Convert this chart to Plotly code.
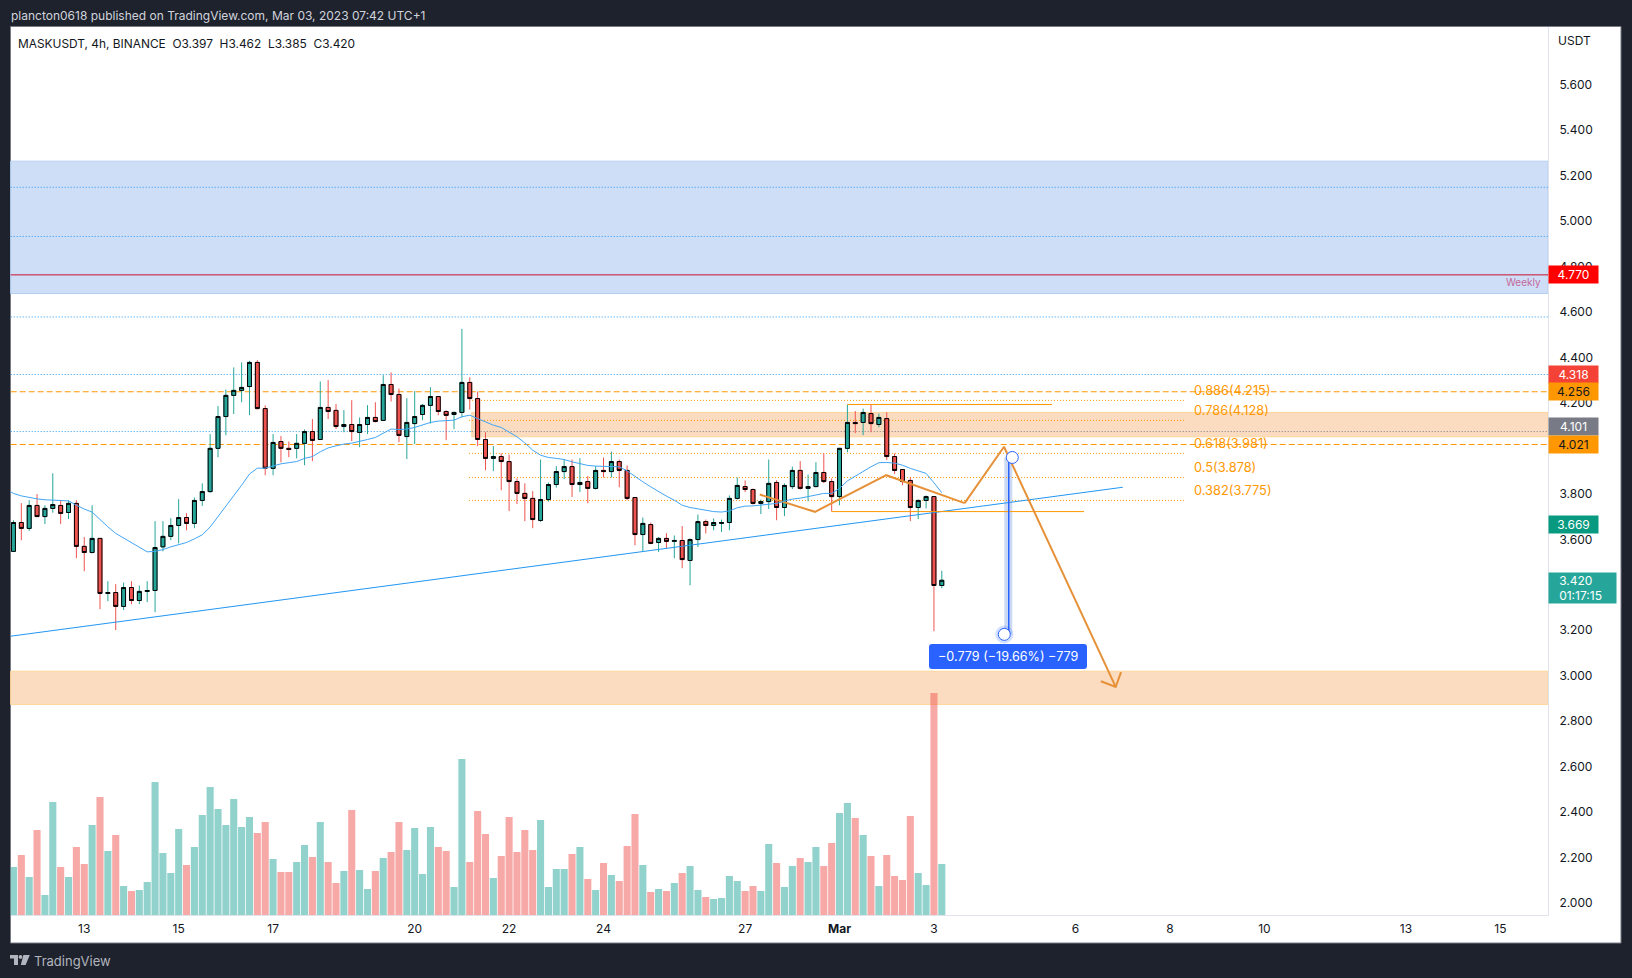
import numpy as np
import pandas as pd
import plotly.graph_objects as go

W, H = 1632, 978

TITLE = "plancton0618 published on TradingView.com, Mar 03, 2023 07:42 UTC+1"
LEGEND = "MASKUSDT, 4h, BINANCE\u00a0\u00a0O3.397\u00a0\u00a0H3.462\u00a0\u00a0L3.385\u00a0\u00a0C3.420"

OPEN = [3.547,3.674,3.648,3.749,3.700,3.736,3.749,3.718,3.758,3.569,3.542,3.604,3.362,3.366,3.305,3.388,3.331,3.371,3.375,3.567,
3.613,3.661,3.696,3.670,3.771,3.810,4.000,4.140,4.233,4.255,4.272,4.378,4.175,3.912,4.030,4.000,4.000,4.022,4.074,4.039,
4.180,4.167,4.096,4.105,4.070,4.105,4.136,4.123,4.281,4.237,4.052,4.109,4.149,4.189,4.228,4.162,4.149,4.158,4.290,4.219,
4.039,3.956,3.964,3.942,3.854,3.802,3.780,3.683,3.775,3.841,3.898,3.920,3.841,3.854,3.824,3.903,3.898,3.942,3.903,3.784,
3.621,3.665,3.586,3.604,3.591,3.595,3.507,3.599,3.678,3.661,3.670,3.674,3.780,3.832,3.819,3.758,3.766,3.850,3.740,3.832,
3.903,3.824,3.832,3.894,3.854,3.788,4.000,4.114,4.114,4.153,4.105,4.131,3.964,3.907,3.859,3.740,3.771,3.788,3.397]
HIGH = [3.684,3.759,3.772,3.799,3.750,3.890,3.772,3.772,3.772,3.610,3.750,3.606,3.416,3.403,3.410,3.416,3.397,3.416,3.680,3.680,
3.693,3.777,3.715,3.784,3.846,4.063,4.186,4.259,4.356,4.378,4.385,4.388,4.189,4.063,4.054,4.030,4.063,4.083,4.129,4.294,
4.300,4.195,4.168,4.212,4.136,4.190,4.203,4.322,4.334,4.263,4.221,4.252,4.195,4.269,4.230,4.168,4.162,4.525,4.312,4.250,
4.071,4.010,3.978,3.973,3.868,3.846,3.812,3.951,3.850,3.922,3.951,3.951,3.957,3.878,3.922,3.960,3.986,3.951,3.925,3.786,
3.696,3.674,3.610,3.627,3.617,3.658,3.604,3.709,3.687,3.692,3.687,3.793,3.872,3.859,3.824,3.775,3.951,3.860,3.846,3.920,
3.944,3.885,3.939,3.978,3.868,4.002,4.193,4.164,4.175,4.193,4.153,4.159,3.978,3.909,3.872,3.775,3.793,3.790,3.462]
LOW = [3.545,3.596,3.637,3.700,3.667,3.717,3.667,3.689,3.517,3.460,3.538,3.293,3.328,3.201,3.289,3.315,3.315,3.324,3.280,3.547,
3.596,3.582,3.640,3.649,3.747,3.805,3.961,4.058,4.151,4.203,4.146,4.171,3.882,3.882,3.939,3.961,3.956,3.926,3.944,4.039,
4.129,4.085,4.071,4.032,4.005,4.063,4.114,4.123,4.206,4.027,3.953,4.019,4.124,4.109,4.146,4.036,4.085,4.136,4.171,4.010,
3.904,3.900,3.816,3.724,3.755,3.680,3.649,3.676,3.766,3.827,3.865,3.786,3.808,3.759,3.819,3.872,3.872,3.829,3.772,3.574,
3.547,3.579,3.544,3.560,3.517,3.473,3.398,3.566,3.626,3.640,3.632,3.640,3.775,3.808,3.753,3.711,3.733,3.684,3.702,3.821,
3.819,3.768,3.829,3.847,3.722,3.750,3.983,4.067,4.058,4.071,4.093,3.948,3.887,3.838,3.680,3.689,3.736,3.196,3.385]
CLOSE = [3.674,3.648,3.749,3.700,3.736,3.753,3.714,3.758,3.569,3.542,3.604,3.362,3.366,3.305,3.388,3.331,3.371,3.375,3.564,3.613,
3.661,3.696,3.670,3.771,3.810,4.000,4.140,4.233,4.255,4.268,4.378,4.175,3.913,4.026,4.000,3.995,4.022,4.074,4.035,4.180,
4.162,4.096,4.105,4.074,4.105,4.136,4.118,4.281,4.237,4.057,4.114,4.140,4.189,4.228,4.162,4.145,4.158,4.290,4.219,4.039,
3.956,3.964,3.942,3.854,3.802,3.780,3.687,3.775,3.841,3.898,3.920,3.841,3.850,3.824,3.903,3.898,3.942,3.903,3.780,3.621,
3.670,3.582,3.604,3.591,3.595,3.511,3.599,3.678,3.661,3.674,3.674,3.780,3.837,3.819,3.758,3.766,3.846,3.740,3.837,3.903,
3.824,3.832,3.894,3.854,3.788,4.000,4.114,4.109,4.158,4.109,4.136,3.964,3.903,3.854,3.740,3.771,3.788,3.397,3.420]
VOLUME = [144,180,114,255,60,339,144,114,204,153,270,354,192,240,87,72,75,99,399,186,
126,258,150,204,300,384,318,270,348,264,294,246,279,168,129,129,159,210,174,279,
159,96,132,315,135,78,132,171,189,279,195,261,123,264,204,192,84,468,159,312,
243,111,177,294,189,255,195,285,84,138,138,183,204,108,75,156,120,102,207,303,
150,69,78,72,96,126,147,75,54,48,51,117,102,72,87,72,213,156,84,147,
171,159,204,147,216,306,336,291,240,177,87,180,117,105,297,126,90,666,153]
EMA = [3.821,3.802,3.791,3.784,3.778,3.774,3.772,3.771,3.769,3.750,3.733,3.720,3.687,3.655,3.626,3.605,3.585,3.564,3.545,3.547,
3.555,3.567,3.577,3.586,3.602,3.620,3.654,3.699,3.747,3.794,3.838,3.887,3.913,3.913,3.923,3.932,3.937,3.942,3.956,3.964,
3.985,4.002,4.011,4.019,4.023,4.030,4.039,4.048,4.068,4.085,4.083,4.085,4.092,4.102,4.114,4.120,4.121,4.124,4.139,4.146,
4.131,4.115,4.102,4.092,4.073,4.051,4.024,3.992,3.970,3.960,3.956,3.951,3.941,3.932,3.925,3.922,3.922,3.922,3.919,3.901,
3.875,3.853,3.831,3.809,3.790,3.772,3.750,3.740,3.734,3.728,3.722,3.720,3.725,3.739,3.746,3.747,3.750,3.756,3.758,3.768,
3.777,3.781,3.787,3.796,3.802,3.802,3.824,3.857,3.878,3.898,3.919,3.937,3.938,3.935,3.926,3.912,3.900,3.890,3.849,3.805]
BAR_START = "2023-02-11 08:00"

TICK_DATES = ["2023-02-13","2023-02-15","2023-02-17","2023-02-20","2023-02-22","2023-02-24","2023-02-27",
              "2023-03-01","2023-03-03","2023-03-06","2023-03-08","2023-03-10","2023-03-13","2023-03-15"]
TICK_TEXT = ["13","15","17","20","22","24","27","<b>Mar</b>","3","6","8","10","13","15"]
PRICE_TICKS = [5.6,5.4,5.2,5.0,4.8,4.6,4.4,4.2,3.8,3.6,3.2,3.0,2.8,2.6,2.4,2.2,2.0]

X_RANGE = ["2023-02-11 10:36","2023-03-16 00:12"]
Y_RANGE = [1.948,5.853]

BLUE_ZONE = (4.681,5.263)
ORANGE_ZONE_LOW = (2.874,3.020)
ORANGE_ZONE_MID = ("2023-02-21 05:00",4.051,4.158)
BLUE_DOTTED = [5.148,4.932,4.578,4.325,4.074]
GREY_DOTTED = 4.074
ORANGE_DASHED = [4.249,4.017]
WEEKLY_LEVEL = 4.763

FIB_START, FIB_END = "2023-02-21 03:36","2023-03-08 07:30"
FIB_PRICES = [4.211,4.123,3.978,3.872,3.771]
FIB_TEXT = ["0.886(4.215)","0.786(4.128)","0.618(3.981)","0.5(3.878)","0.382(3.775)"]
FIB_LABEL_X = "2023-03-08 11:14"

TREND_X = ["2023-02-11 10:36","2023-03-07 00:00"]
TREND_Y = [3.174,3.829]

PATH_X = ["2023-02-27 07:26","2023-02-28 11:32","2023-03-01 23:46","2023-03-03 15:36","2023-03-04 11:38","2023-03-06 20:24"]
PATH_Y = [3.797,3.721,3.882,3.759,4.007,2.951]
HEAD_X = ["2023-03-06 12:52","2023-03-06 20:24","2023-03-06 23:08"]
HEAD_Y = [2.976,2.951,3.016]

HL_TOP_X = ["2023-03-01 04:00","2023-03-05 12:00"]
HL_TOP_Y = [4.193,4.193]
HL_BOT_X = ["2023-02-28 20:00","2023-03-06 04:18"]
HL_BOT_Y = [3.722,3.722]

MEASURE_BAND_X = ("2023-03-04 11:46","2023-03-04 15:50")
MEASURE_LINE_X = ["2023-03-04 14:02","2023-03-04 14:02"]
MEASURE_Y = [3.960,3.182]
MEASURE_DOTS_X = ["2023-03-04 15:50","2023-03-04 11:46"]
MEASURE_TEXT = "\u22120.779 (\u221219.66%) \u2212779"

PRICE_TAGS = [("4.770",4.763,"#FF0000","#ffffff"),("4.318",4.324,"#F44336","#ffffff"),("4.256",4.249,"#FF9800","#131722"),
              ("4.101",4.095,"#787B86","#ffffff"),("4.021",4.017,"#FF9800","#131722"),("3.669",3.665,"#089981","#ffffff")]
LAST_TAG = ("\u00a0\u00a0\u00a03.420<br>\u00a0\u00a0\u00a001:17:15",3.384,"#26A69A","#ffffff")

BG = "#1E222D"
FONT = "Inter"
GREEN, RED = "#26A69A", "#EF5350"

px = lambda v: v / W
py = lambda v: 1 - v / H

dates = pd.date_range(BAR_START, periods=120, freq="4h")
bars = dates[1:]
o, c = np.array(OPEN), np.array(CLOSE)
top, bot = np.maximum(o, c), np.minimum(o, c)
vol_colors = ["rgba(38,166,154,0.5)" if a >= b else "rgba(239,83,80,0.5)" for a, b in zip(CLOSE, OPEN)]

fig = go.Figure()
fig.add_trace(go.Scatter(x=PATH_X[:4], y=PATH_Y[:4], mode="lines", line=dict(color="#E69138", width=2), hoverinfo="skip", showlegend=False))
fig.add_trace(go.Candlestick(x=bars, open=OPEN, high=HIGH, low=LOW, close=CLOSE, whiskerwidth=0, hoverinfo="skip",
    increasing=dict(line=dict(color=GREEN, width=1), fillcolor=GREEN),
    decreasing=dict(line=dict(color=RED, width=1), fillcolor=RED), showlegend=False))
fig.add_trace(go.Candlestick(x=bars, open=OPEN, close=CLOSE, high=top, low=bot, whiskerwidth=0, hoverinfo="skip",
    increasing=dict(line=dict(color="#000000", width=1), fillcolor=GREEN),
    decreasing=dict(line=dict(color="#000000", width=1), fillcolor=RED), showlegend=False))
fig.add_trace(go.Scatter(x=dates, y=EMA, mode="lines", line=dict(color="#42A5F5", width=1), hoverinfo="skip", showlegend=False))
fig.add_trace(go.Scatter(x=TREND_X, y=TREND_Y, mode="lines", line=dict(color="#2196F3", width=1), hoverinfo="skip", showlegend=False))
for xs, ys in ((HL_TOP_X, HL_TOP_Y), (HL_BOT_X, HL_BOT_Y)):
    fig.add_trace(go.Scatter(x=xs, y=ys, mode="lines", line=dict(color="#FF9800", width=1), hoverinfo="skip", showlegend=False))
for xs, ys in ((PATH_X[3:], PATH_Y[3:]), (HEAD_X, HEAD_Y)):
    fig.add_trace(go.Scatter(x=xs, y=ys, mode="lines", line=dict(color="#E69138", width=2), hoverinfo="skip", showlegend=False))
fig.add_trace(go.Scatter(x=MEASURE_LINE_X, y=MEASURE_Y, mode="lines", line=dict(color="#2962FF", width=1.5), hoverinfo="skip", showlegend=False))
fig.add_trace(go.Scatter(x=MEASURE_DOTS_X[1:], y=MEASURE_Y[1:], mode="markers",
    marker=dict(size=18, color="rgba(41,98,255,0.2)"), hoverinfo="skip", showlegend=False))
fig.add_trace(go.Scatter(x=MEASURE_DOTS_X, y=MEASURE_Y, mode="markers",
    marker=dict(size=12, color="#ffffff", line=dict(color="#2962FF", width=1)), hoverinfo="skip", showlegend=False))
fig.add_trace(go.Bar(x=bars, y=VOLUME, marker=dict(color=vol_colors, line=dict(width=0)), yaxis="y2", hoverinfo="skip", showlegend=False))

shapes = [
    dict(type="rect", xref="paper", yref="paper", x0=px(10.5), x1=px(1621), y0=py(943), y1=py(26.5), layer="below",
         fillcolor="#ffffff", line=dict(color="#787B86", width=1)),
    dict(type="rect", xref="paper", yref="y", x0=px(10.7), x1=px(1548), y0=BLUE_ZONE[0], y1=BLUE_ZONE[1], layer="below",
         fillcolor="#CFDEF7", line=dict(color="#B5D0F3", width=1)),
    dict(type="rect", xref="paper", yref="y", x0=px(10.7), x1=px(1548), y0=ORANGE_ZONE_LOW[0], y1=ORANGE_ZONE_LOW[1], layer="below",
         fillcolor="#FBDCC0", line=dict(color="#FFD699", width=1)),
    dict(type="rect", xref="x", yref="y", x0=ORANGE_ZONE_MID[0], x1=X_RANGE[1], y0=ORANGE_ZONE_MID[1], y1=ORANGE_ZONE_MID[2], layer="below",
         fillcolor="#FBDCC0", line=dict(color="#FFD699", width=1)),
    dict(type="line", xref="paper", yref="y", x0=px(10.7), x1=px(1548), y0=WEEKLY_LEVEL, y1=WEEKLY_LEVEL, layer="below",
         line=dict(color="#C8102E", width=1)),
    dict(type="rect", xref="x", yref="y", x0=MEASURE_BAND_X[0], x1=MEASURE_BAND_X[1], y0=MEASURE_Y[1], y1=MEASURE_Y[0], layer="below",
         fillcolor="#CCD9F5", line=dict(width=0)),
]
for lv in BLUE_DOTTED:
    shapes.append(dict(type="line", xref="paper", yref="y", x0=px(10.7), x1=px(1548), y0=lv, y1=lv, layer="below",
                       line=dict(color="#2196F3", width=1, dash="1px,2px")))
shapes.append(dict(type="line", xref="x", yref="y", x0=ORANGE_ZONE_MID[0], x1=X_RANGE[1], y0=GREY_DOTTED, y1=GREY_DOTTED, layer="below",
                   line=dict(color="#787B86", width=1, dash="1px,2px")))
for lv in ORANGE_DASHED:
    shapes.append(dict(type="line", xref="paper", yref="y", x0=px(10.7), x1=px(1548), y0=lv, y1=lv, layer="below",
                       line=dict(color="#FF9800", width=1, dash="6px,3px")))
for lv in FIB_PRICES:
    shapes.append(dict(type="line", xref="x", yref="y", x0=FIB_START, x1=FIB_END, y0=lv, y1=lv, layer="below",
                       line=dict(color="#FF9800", width=1, dash="1px,2px")))

def rounded(x0, y0, x1, y1, r):
    X = lambda v: f"{px(v):.5f}"
    Y = lambda v: f"{py(v):.5f}"
    return (f"M{X(x0+r)},{Y(y0)} L{X(x1-r)},{Y(y0)} Q{X(x1)},{Y(y0)} {X(x1)},{Y(y0+r)} L{X(x1)},{Y(y1-r)} "
            f"Q{X(x1)},{Y(y1)} {X(x1-r)},{Y(y1)} L{X(x0+r)},{Y(y1)} Q{X(x0)},{Y(y1)} {X(x0)},{Y(y1-r)} "
            f"L{X(x0)},{Y(y0+r)} Q{X(x0)},{Y(y0)} {X(x0+r)},{Y(y0)} Z")
shapes.append(dict(type="path", xref="paper", yref="paper", path=rounded(929, 644, 1087, 669, 3), fillcolor="#2962FF", line=dict(width=0), layer="above"))
logo_col = "#B2B5BE"
def poly(pts):
    return "M" + " L".join(f"{px(a):.5f},{py(b):.5f}" for a, b in pts) + " Z"
shapes.append(dict(type="path", xref="paper", yref="paper", fillcolor=logo_col, line=dict(width=0), layer="above",
    path=poly([(10,955),(18,955),(18,965),(14,965),(14,958.6),(10,958.6)])))
shapes.append(dict(type="path", xref="paper", yref="paper", fillcolor=logo_col, line=dict(width=0), layer="above",
    path=poly([(23.4,955),(29.8,955),(25.6,965),(20.8,965)])))
shapes.append(dict(type="circle", xref="paper", yref="paper", fillcolor=logo_col, line=dict(width=0), layer="above",
    x0=px(18.6), x1=px(22.4), y0=py(958.8), y1=py(955)))

ann = []
def text(x, y, t, size=12, color="#131722", anchor="left", **kw):
    ann.append(dict(x=px(x), y=py(y), xref="paper", yref="paper", text=t, showarrow=False, xanchor=anchor, yanchor="middle",
                    font=dict(family=FONT, size=size, color=color), **kw))

text(9, 15, TITLE, 12, "#D1D4DC")
text(16, 43, LEGEND, 11.9, "#131722")
text(31.5, 961, "TradingView", 13, "#B2B5BE")
text(1556, 40, "USDT", 12, "#131722")
text(1543, 282, "Weekly", 10, "#C2699A", anchor="right")
text(1008, 656.5, MEASURE_TEXT, 12.6, "#ffffff", anchor="center")

for t, lv in zip(FIB_TEXT, FIB_PRICES):
    ann.append(dict(x=FIB_LABEL_X, y=lv, xref="x", yref="y", text=t, showarrow=False, xanchor="left", yanchor="middle", yshift=10,
                    font=dict(family=FONT, size=12.8, color="#FF9800")))
for t, lv, bg, fg in PRICE_TAGS:
    ann.append(dict(x=px(1548), y=lv, xref="paper", yref="y", text=t, showarrow=False, xanchor="left", yanchor="middle",
                    width=49, height=17, align="center", valign="middle", bgcolor=bg, borderpad=0,
                    font=dict(family=FONT, size=12, color=fg)))
t, lv, bg, fg = LAST_TAG
ann.append(dict(x=px(1548), y=lv, xref="paper", yref="y", text=t, showarrow=False, xanchor="left", yanchor="middle",
                width=67, height=30, align="left", valign="middle", bgcolor=bg, borderpad=0,
                font=dict(family=FONT, size=12, color=fg)))

fig.update_layout(
    width=W, height=H, margin=dict(l=0, r=0, t=0, b=0, autoexpand=False),
    paper_bgcolor=BG, plot_bgcolor="rgba(0,0,0,0)", bargap=0.1, boxgap=0.5, boxgroupgap=0, boxmode="overlay",
    font=dict(family=FONT, size=12, color="#131722"), shapes=shapes, annotations=ann, showlegend=False,
    xaxis=dict(type="date", domain=[px(10.7), px(1548)], range=X_RANGE, rangeslider=dict(visible=False), tickmode="array",
               tickvals=TICK_DATES, ticktext=TICK_TEXT, showgrid=False, zeroline=False, ticks="", showline=True,
               linecolor="#E0E3EB", linewidth=1, ticklabelstandoff=3, tickfont=dict(family=FONT, size=12, color="#131722")),
    yaxis=dict(domain=[py(915), py(27)], range=Y_RANGE, side="right", tickmode="array", tickvals=PRICE_TICKS,
               ticktext=[f"{v:.3f}" for v in PRICE_TICKS], showgrid=False, zeroline=False, ticks="", showline=True,
               linecolor="#E0E3EB", linewidth=1, ticklabelstandoff=8, tickfont=dict(family=FONT, size=12, color="#131722")),
    yaxis2=dict(overlaying="y", range=[0, 2664], visible=False, showgrid=False, zeroline=False),
)
fig.write_html("out.html", config=dict(displayModeBar=False),
               post_script="document.body.style.margin='0';document.body.style.overflow='hidden';")
